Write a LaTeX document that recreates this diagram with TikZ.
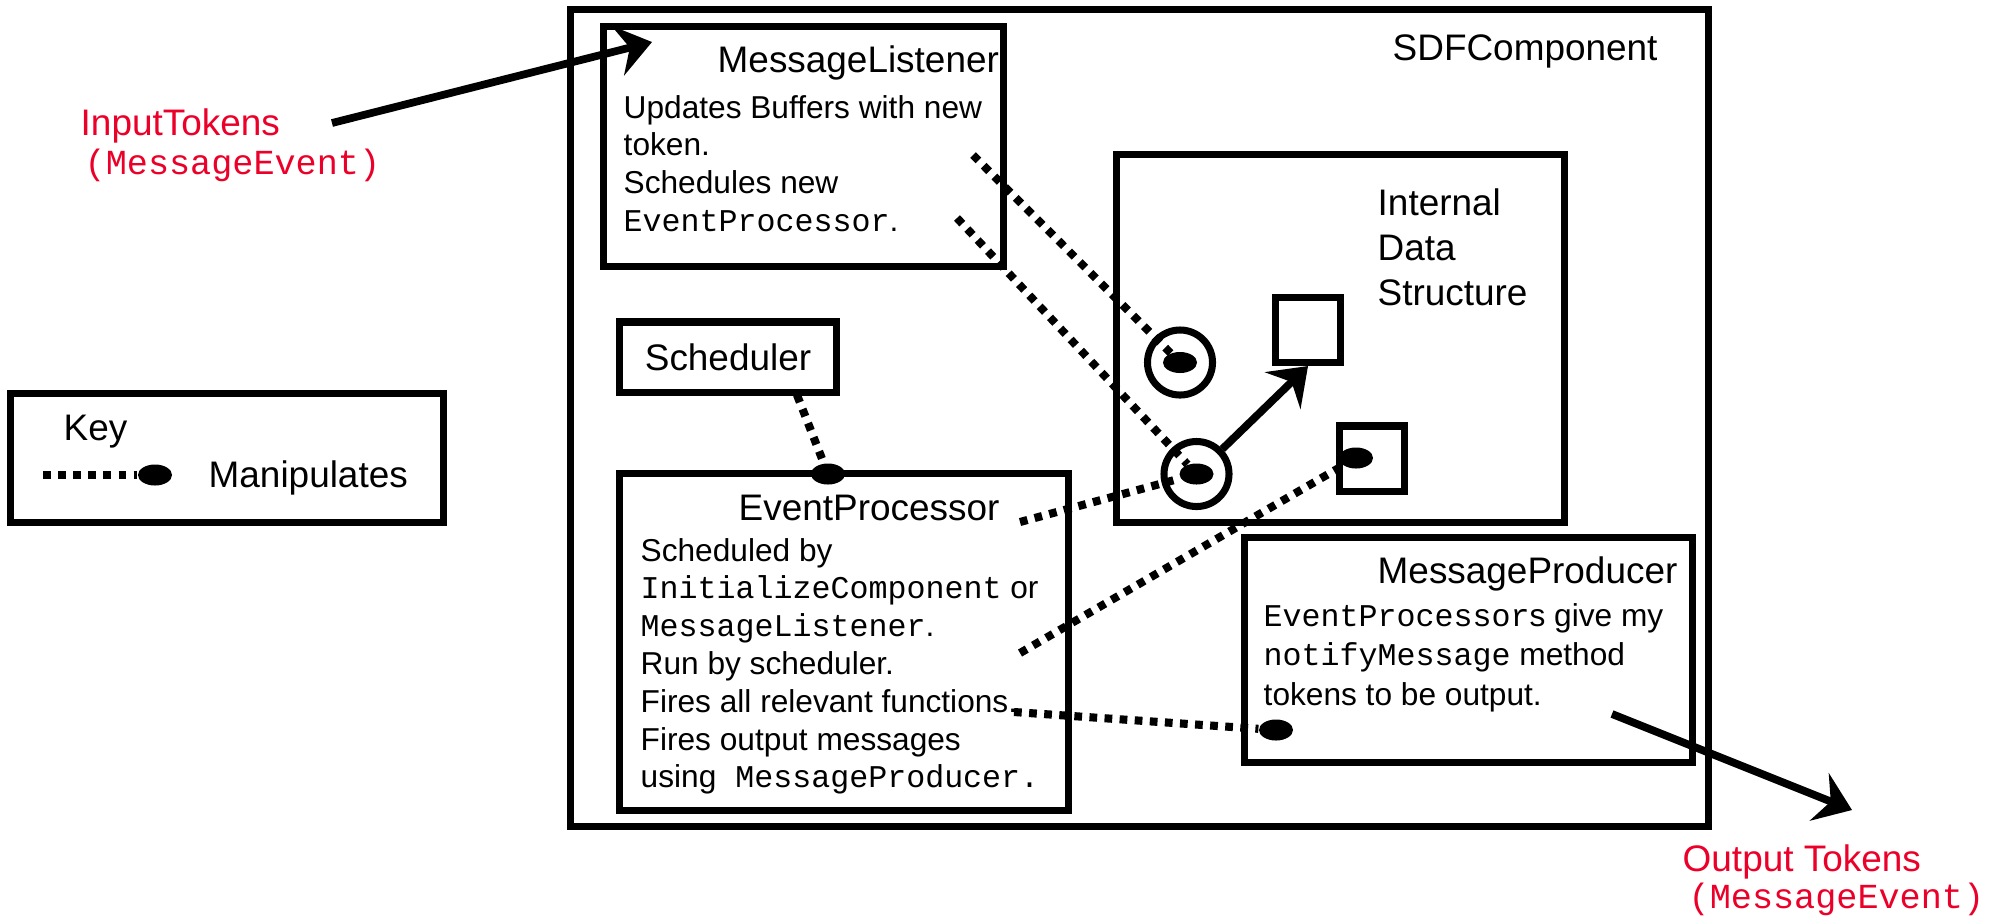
\documentclass[tikz,border=0pt]{standalone}
\usepackage{fontspec}
\setmainfont{Liberation Sans}
\setmonofont{Liberation Mono}
\usepackage{xcolor}
\definecolor{tokred}{RGB}{235,0,41}
\usepackage{tikz}
\usetikzlibrary{shapes.geometric, arrows.meta}
\newcommand{\code}[1]{\texttt{#1}}
\tikzstyle{box} = [
    rectangle, draw,
    line width=2pt,
    inner sep=0pt,
]
\tikzstyle{boxtitle} = [
    font=\fontsize{10.5}{12.6}\selectfont,
    inner sep=0pt, anchor=base west,
]
\tikzstyle{body} = [
    font=\fontsize{9}{10.8}\selectfont,
    inner sep=0pt, anchor=base west,
]
\tikzstyle{token} = [boxtitle, text=tokred]
\tikzstyle{tokencode} = [token, font=\fontsize{10}{12}\ttfamily]
\tikzstyle{blob} = [
    ellipse, fill, inner sep=0pt,
    minimum width=.34cm, minimum height=.21cm,
]
\tikzstyle{item} = [circle, draw, line width=2pt, minimum size=.65cm, inner sep=0pt]
\tikzstyle{cell} = [rectangle, draw, line width=2pt, minimum size=.65cm, inner sep=0pt]
\tikzstyle{manip} = [line width=2.3pt, dash pattern=on 2.2pt off 2.1pt]
\tikzstyle{arrow} = [-{Stealth[length=10pt, width=14.5pt, inset=3.5pt]}, line width=2.2pt]

\begin{document}
\begin{tikzpicture}[x=0.01cm, y=-0.01cm]
    \useasboundingbox (0,0) rectangle (1997,920);

    % boxes
    \node (sdf) at (1139.5,418) [box, minimum width=11.37cm, minimum height=8.16cm] {};
    \node (ml) at (803.25,146.25) [box, minimum width=3.995cm, minimum height=2.395cm] {};
    \node (sched) at (728,357) [box, minimum width=2.16cm, minimum height=.7cm,
        font=\fontsize{10.5}{12.6}\selectfont] {Scheduler};
    \node (ep) at (844,642) [box, minimum width=4.48cm, minimum height=3.36cm] {};
    \node (ids) at (1340.5,338.25) [box, minimum width=4.48cm, minimum height=3.675cm] {};
    \node (mp) at (1468.5,650) [box, minimum width=4.47cm, minimum height=2.24cm] {};
    \node (key) at (227,458) [box, minimum width=4.32cm, minimum height=1.28cm] {};

    % titles
    \node (sdftitle) at (1392,60) [boxtitle] {SDFComponent};
    \node (mltitle) at (717,72) [boxtitle] {MessageListener};
    \node (eptitle) at (738,520) [boxtitle] {EventProcessor};
    \node (mptitle) at (1377,583) [boxtitle] {MessageProducer};
    \foreach \t [count=\i] in {Internal, Data, Structure} {
        \node (ids\i) at (1377,{215+45*(\i-1)}) [boxtitle] {\t};
    }
    \node (keytitle) at (63,440) [boxtitle] {Key};
    \node (keytext) at (208,487) [boxtitle] {Manipulates};

    % box texts
    \foreach \t [count=\i] in {{Updates Buffers with new}, {token.}, {Schedules new},
            {\code{EventProcessor}.}} {
        \node (ml\i) at (623,{118+37.7*(\i-1)}) [body] {\t};
    }
    \foreach \t [count=\i] in {{Scheduled by}, {\code{InitializeComponent} or},
            {\code{MessageListener}.}, {Run by scheduler.}, {Fires all relevant functions.},
            {Fires output messages}, {using\code{ MessageProducer.}}} {
        \node (ep\i) at (640,{561+37.8*(\i-1)}) [body] {\t};
    }
    \foreach \t [count=\i] in {{\code{EventProcessor}s give my}, {\code{notifyMessage} method},
            {tokens to be output.}} {
        \node (mp\i) at (1263,{626+39.5*(\i-1)}) [body] {\t};
    }

    % tokens
    \node (intok) at (80,135) [token] {InputTokens};
    \node (inevent) at (84,174) [tokencode] {(MessageEvent)};
    \node (outtok) at (1682,871) [token] {Output Tokens};
    \node (outevent) at (1688,908) [tokencode] {(MessageEvent)};

    % internal data
    \node (c1) at (1180,362.5) [item] {};
    \node (c2) at (1196.5,474) [item] {};
    \node (s1) at (1308,330) [cell] {};
    \node (s2) at (1372,458.5) [cell] {};

    % dots
    \node (d1) at (c1) [blob] {};
    \node (d2) at (c2) [blob] {};
    \node (d3) at (1356,458) [blob] {};
    \node (d4) at (828,474) [blob] {};
    \node (d5) at (1276,730) [blob] {};
    \node (dk) at (155,475) [blob] {};

    \coordinate (mlA) at (973,155);
    \coordinate (mlB) at (957,218);
    \coordinate (schA) at (797,395);
    \coordinate (epA) at (1020,522);
    \coordinate (epB) at (1020,653);
    \coordinate (epC) at (1014,712);
    \coordinate (keyA) at (43,475);

    % manipulates
    \draw [manip] (mlA) to (d1);
    \draw [manip] (mlB) to (d2);
    \draw [manip] (schA) to (d4);
    \draw [manip] (epA) to (d2);
    \draw [manip] (epB) to (d3);
    \draw [manip] (epC) to (d5);
    \draw [manip] (keyA) to (dk);

    % arrows
    \coordinate (inA) at (332,123);
    \coordinate (inB) at (652,42);
    \coordinate (outA) at (1612,714);
    \coordinate (outB) at (1852,810);
    \draw [arrow] (inA) to (inB);
    \draw [arrow] (outA) to (outB);
    \draw [arrow] (c2) to (s1.south);
\end{tikzpicture}
\end{document}
